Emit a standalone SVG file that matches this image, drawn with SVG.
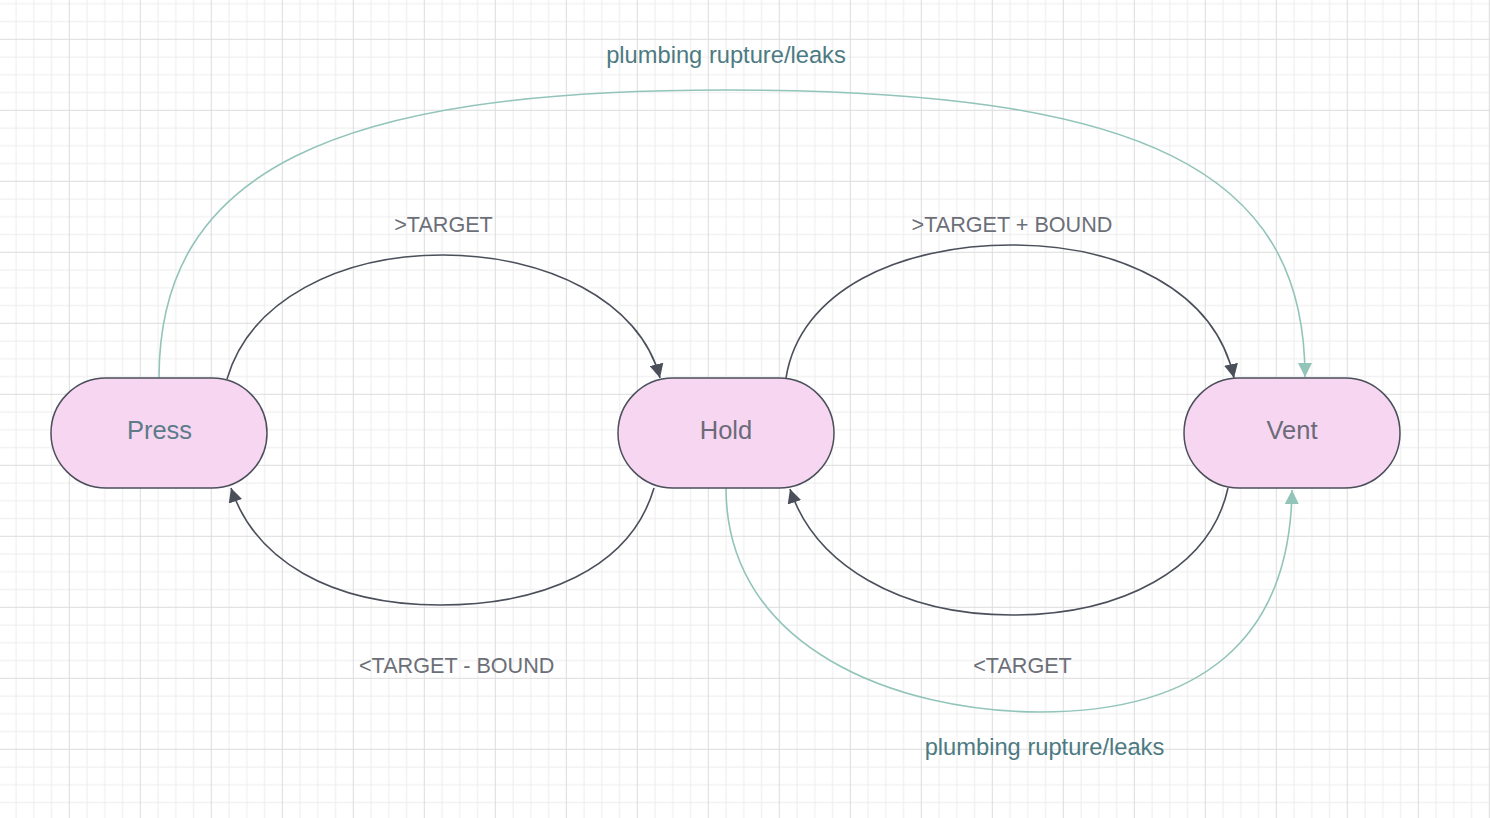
<svg xmlns="http://www.w3.org/2000/svg" width="1490" height="818" viewBox="0 0 1490 818">
<style>
.node rect{fill:#f7d6f2;stroke:#4a4f5a;stroke-width:1.5}
.nlabel{font-family:"Liberation Sans",Arial,sans-serif;font-size:25.5px;text-anchor:middle;fill:#6b6b79}
.elabel{font-family:"Liberation Sans",Arial,sans-serif;font-size:21.6px;text-anchor:middle;fill:#6c6f78}
.plabel{font-family:"Liberation Sans",Arial,sans-serif;font-size:23.7px;text-anchor:middle;fill:#4d7a82}
.dark{fill:none;stroke:#4a4f5a;stroke-width:1.6}
.teal{fill:none;stroke:#92c4ba;stroke-width:1.6}
</style>
<defs>
<pattern id="grid" x="-2.2" y="-32.2" width="71" height="71" patternUnits="userSpaceOnUse">
<rect width="71" height="71" fill="#ffffff"/>
<path d="M18.25 0V71M36 0V71M53.75 0V71M0 18.25H71M0 36H71M0 53.75H71" stroke="#ededed" stroke-width="1"/>
<path d="M0.5 0V71M0 0.5H71" stroke="#dcdcdc" stroke-width="1"/>
</pattern>
<marker id="arrDark" markerWidth="16" markerHeight="14" refX="14" refY="7" orient="auto" markerUnits="userSpaceOnUse">
<path d="M0,0 L14,7 L0,14 Z" fill="#4a4f5a"/>
</marker>
<marker id="arrTeal" markerWidth="16" markerHeight="14" refX="14" refY="7" orient="auto" markerUnits="userSpaceOnUse">
<path d="M0,0 L14,7 L0,14 Z" fill="#92c4ba"/>
</marker>
</defs>
<rect width="1490" height="818" fill="url(#grid)"/>

<g id="connectors">
<path class="teal" d="M159,378 C159,170 335,90 725,90 C1143,90 1305,170 1305,377" marker-end="url(#arrTeal)"/>
<path class="teal" d="M726,488 C726,650 900,712 1040,712 C1200,712 1290,640 1292,490" marker-end="url(#arrTeal)"/>
<path class="dark" d="M227,379 C250,300 340,255 443,255 C545,255 640,300 660,378" marker-end="url(#arrDark)"/>
<path class="dark" d="M786,378 C800,290 900,245 1012,245 C1120,245 1215,290 1234,378" marker-end="url(#arrDark)"/>
<path class="dark" d="M654,488 C630,570 540,605 440,605 C330,605 255,560 231,488" marker-end="url(#arrDark)"/>
<path class="dark" d="M1228,488 C1210,570 1120,615 1012,615 C900,615 815,565 790,489" marker-end="url(#arrDark)"/>
<text class="elabel" x="443.5" y="231.5">&gt;TARGET</text>
<text class="elabel" x="1012" y="231.7">&gt;TARGET + BOUND</text>
<text class="elabel" x="456.7" y="672.7">&lt;TARGET - BOUND</text>
<text class="elabel" x="1022.5" y="672.5">&lt;TARGET</text>
<text class="plabel" x="726" y="63">plumbing rupture/leaks</text>
<text class="plabel" x="1044.5" y="755">plumbing rupture/leaks</text>
</g>

<g id="press" class="node">
<rect x="51" y="378" width="216" height="110" rx="55" ry="55"/>
<text class="nlabel" x="159.5" y="438.5" style="fill:#5d7b88">Press</text>
</g>
<g id="hold" class="node">
<rect x="618" y="378" width="216" height="110" rx="55" ry="55"/>
<text class="nlabel" x="726" y="438.5">Hold</text>
</g>
<g id="vent" class="node">
<rect x="1184" y="378" width="216" height="110" rx="55" ry="55"/>
<text class="nlabel" x="1292" y="438.5">Vent</text>
</g>
</svg>
